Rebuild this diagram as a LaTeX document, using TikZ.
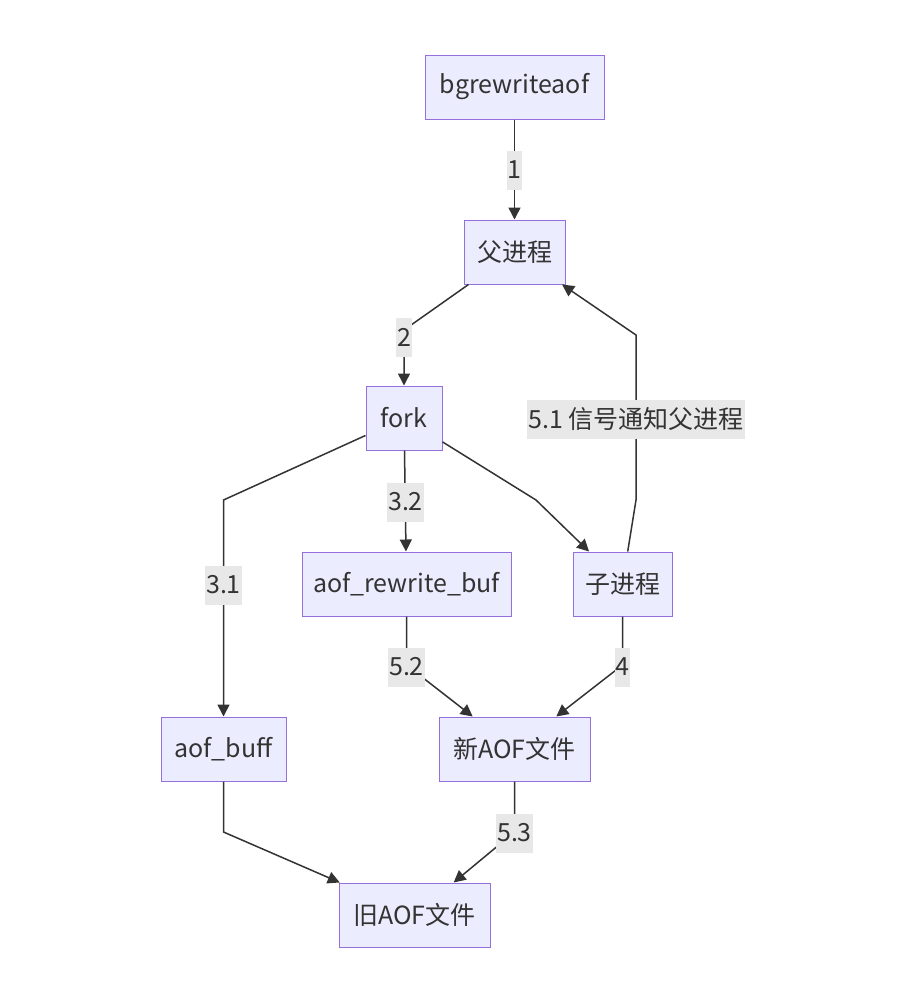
\documentclass[tikz,border=0pt]{standalone}
\usepackage{fontspec}
\setmainfont{Noto Sans CJK SC}
\usetikzlibrary{arrows.meta}
\definecolor{procfill}{HTML}{ECECFF}
\definecolor{procline}{HTML}{9370DB}
\definecolor{flowline}{HTML}{333333}
\definecolor{labelfill}{HTML}{E8E8E8}
\tikzset{
    proc/.style={draw=procline, fill=procfill, line width=1pt, minimum height=64pt, inner sep=0pt, text=flowline},
    elabel/.style={fill=labelfill, inner xsep=1pt, inner ysep=0pt, minimum height=39pt, text=flowline},
    flow/.style={draw=flowline, line width=1.5pt, -{Triangle[length=12pt,width=12pt]}}
}
\begin{document}
\begin{tikzpicture}[x=1pt, y=-1pt, font=\fontsize{25}{30}\selectfont]
    \useasboundingbox (0,0) rectangle (906,989);

    \node[proc, minimum width=179pt] (bgrw) at (514.5,87) {bgrewriteaof};
    \node[proc, minimum width=101pt] (prnt) at (514.5,252) {父进程};
    \node[proc, minimum width=76pt] (fork) at (404,418) {fork};
    \node[proc, minimum width=209pt] (rwbuf) at (406.5,584) {aof\_rewrite\_buf};
    \node[proc, minimum width=99pt] (child) at (622.5,584) {子进程};
    \node[proc, minimum width=125pt] (aofbuff) at (223.5,749) {aof\_buff};
    \node[proc, minimum width=151pt] (newaof) at (514.5,749) {新AOF文件};
    \node[proc, minimum width=151pt] (oldaof) at (414.5,915) {旧AOF文件};

    \coordinate (k2) at (404,330);
    \coordinate (k31) at (223.5,500);
    \coordinate (kchild) at (536,500);
    \coordinate (k51a) at (636,500);
    \coordinate (k51b) at (636,335);
    \coordinate (k52) at (406.5,665);
    \coordinate (k4) at (622.5,665);
    \coordinate (kbuff) at (223.5,832);
    \coordinate (k53) at (514.5,832);

    \draw[flow] (bgrw) -- (prnt);
    \draw[flow] (prnt) -- (k2) -- (fork);
    \draw[flow] (fork) -- (k31) -- (aofbuff);
    \draw[flow] (fork) -- (rwbuf);
    \draw[flow] (fork) -- (kchild) -- (child);
    \draw[flow] (child) -- (k51a) -- (k51b) -- (prnt);
    \draw[flow] (rwbuf) -- (k52) -- (newaof);
    \draw[flow] (child) -- (k4) -- (newaof);
    \draw[flow] (aofbuff) -- (kbuff) -- (oldaof);
    \draw[flow] (newaof) -- (k53) -- (oldaof);

    \node[elabel] (l1) at (514.5,170) {1};
    \node[elabel] (l2) at (404,337) {2};
    \node[elabel] (l31) at (223.5,585) {3.1};
    \node[elabel] (l32) at (405.5,502) {3.2};
    \node[elabel] (l51) at (636,419) {5.1 信号通知父进程};
    \node[elabel] (l52) at (406.5,667) {5.2};
    \node[elabel] (l4) at (622.5,667) {4};
    \node[elabel] (l53) at (514.5,833) {5.3};
\end{tikzpicture}
\end{document}
